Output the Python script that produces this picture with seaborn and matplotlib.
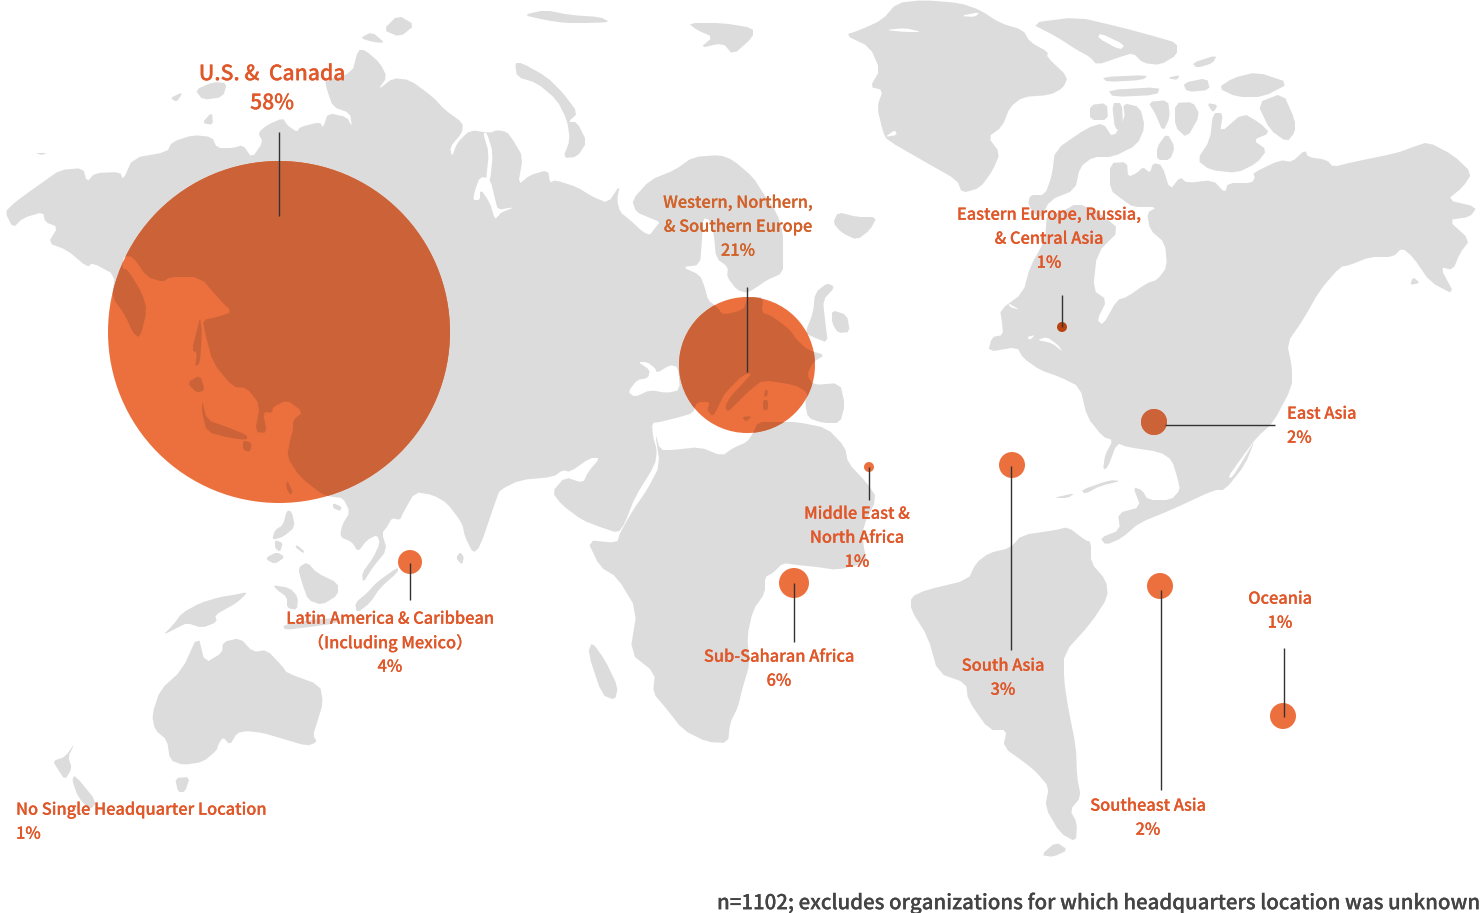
import matplotlib
matplotlib.use("Agg")
import matplotlib.patheffects as pe
import matplotlib.pyplot as plt
import pandas as pd
import seaborn as sns
from matplotlib.collections import PolyCollection
from matplotlib.patches import Circle

# Bubble values
regions = ["U.S. & Canada", "Western Europe", "East Asia", "Eastern Europe", "Middle East",
           "Sub-Saharan Africa", "South Asia", "Southeast Asia", "Oceania", "Latin America"]
shares = [58, 21, 2, 1, 1, 6, 3, 2, 1, 4]
bubble_x = [279, 747, 1154, 1062, 869, 794, 1012, 1160, 1283, 410]
bubble_y = [332, 365, 422, 327, 467, 583, 465, 586, 716, 562]
bubble_r = [171, 68, 13, 5, 5, 15, 13, 13, 13, 12]

# Leader lines (x0, y0, x1, y1)
leaders = [(279, 132, 279, 216), (747, 287, 747, 372), (1165, 425, 1275, 425),
           (1062, 295, 1062, 327), (869, 467, 869, 500), (794, 583, 794, 642),
           (1011, 466, 1011, 650), (1161, 590, 1161, 790), (1284, 648, 1284, 717),
           (410, 563, 410, 600)]

TEXT = "#e0582a"

# Labels: lines of text, x, first line y, alignment, colour
labels = [
    (["Western, Northern,", "& Southern Europe", "21%"], 738, 202, "center", "#d2622a"),
    (["Eastern Europe, Russia,", "& Central Asia", "1%"], 1049, 214, "center", TEXT),
    (["East Asia", "2%"], 1287, 413, "left", TEXT),
    (["Latin America & Caribbean", "（Including Mexico）", "4%"], 390, 618, "center", TEXT),
    (["Middle East &", "North Africa", "1%"], 857, 513, "center", TEXT),
    (["Sub-Saharan Africa", "6%"], 779, 656, "center", TEXT),
    (["South Asia", "3%"], 1003, 665, "center", TEXT),
    (["Southeast Asia", "2%"], 1148, 805, "center", TEXT),
    (["Oceania", "1%"], 1280, 598, "center", TEXT),
    (["No Single Headquarter Location", "1%"], 16, 809, "left", TEXT),
]
note = "n=1102; excludes organizations for which headquarters location was unknown"

# Background map, traced in picture pixels (the map is mirrored left to right)
eurasia = [(5,212),(13,204),(22,197),(43,182),(60,170),(83,168),(87,182),(95,173),(120,172),(123,180),
    (133,158),(167,152),(172,142),(193,135),(212,137),(217,148),(233,148),(243,145),(252,158),(263,142),
    (258,133),(267,125),(283,118),(287,125),(297,132),(300,127),(320,122),(323,128),(328,113),(347,117),
    (352,127),(350,113),(333,107),(327,90),(325,80),(352,73),(358,50),(365,50),(380,63),(387,77),(378,90),
    (393,78),(410,80),(433,97),(445,110),(463,123),(462,133),(450,147),(452,157),(457,143),(470,130),
    (490,133),(497,130),(507,132),(513,140),(523,157),(518,185),(530,175),(548,170),(550,183),(555,180),
    (577,187),(593,197),(608,203),(620,185),(617,200),(620,212),(630,220),(643,232),(650,235),(655,228),
    (660,222),(650,218),(636,212),(632,200),(650,180),(675,170),(693,157),(720,155),(733,160),(753,177),
    (763,193),(777,213),(783,233),(783,253),(783,273),(767,280),(757,287),(747,293),(737,290),(727,277),
    (728,267),(716,258),(714,235),(710,220),(703,218),(702,240),(700,265),(682,267),(700,275),(705,288),
    (708,300),(717,307),(723,315),(743,310),(747,300),(750,297),(763,297),(762,313),(770,315),(780,322),
    (790,330),(797,340),(808,350),(825,355),(813,362),(807,375),(813,385),(840,383),(845,405),(840,423),
    (823,423),(808,418),(805,403),(808,393),(795,385),(763,380),(750,390),(737,403),(728,412),(725,407),
    (730,397),(745,381),(752,373),(743,375),(725,393),(720,403),(713,417),(707,410),(710,402),(697,402),
    (693,413),(680,417),(660,422),(652,423),(653,437),(657,450),(655,465),(635,497),(625,523),(618,533),
    (600,527),(582,520),(562,505),(552,492),(565,477),(583,483),(588,472),(600,458),(590,458),(570,472),
    (563,470),(553,477),(520,480),(500,490),(497,497),(480,547),(473,553),(465,537),(462,523),(447,503),
    (433,495),(415,492),(403,513),(400,520),(392,518),(387,527),(382,533),(387,550),(373,567),(363,583),
    (362,573),(373,558),(380,543),(377,535),(367,540),(358,552),(352,542),(340,537),(342,525),(350,512),
    (343,498),(333,497),(323,495),(300,477),(287,457),(290,440),(293,430),(293,420),(303,412),(287,400),
    (273,407),(272,413),(263,412),(267,433),(255,432),(260,405),(247,388),(233,387),(213,363),(205,333),
    (203,320),(217,317),(232,312),(220,300),(200,277),(170,277),(163,282),(147,277),(133,257),(124,256),
    (122,268),(128,270),(142,293),(147,310),(140,338),(133,333),(125,315),(112,297),(115,275),(93,263),
    (87,267),(67,250),(48,243),(58,227),(45,222),(43,212),(23,218),(13,228)]
africa = [(655,432),(660,450),(673,450),(700,447),(722,456),(733,448),(747,442),(753,433),(758,422),(780,422),
    (797,422),(827,428),(845,447),(848,463),(867,483),(877,498),(863,527),(863,543),(867,563),(837,570),
    (817,567),(797,565),(783,563),(773,573),(765,577),(765,593),(753,610),(747,637),(750,663),(742,690),
    (738,707),(730,723),(728,743),(707,742),(683,730),(665,707),(653,693),(655,673),(630,653),(637,610),
    (617,577),(600,567),(587,540),(617,543),(620,533),(633,510),(647,490),(660,465)]
north_america = [(1253,173),(1280,160),(1292,162),(1305,150),(1308,157),(1327,160),(1333,167),(1353,162),
    (1397,153),(1413,147),(1428,142),(1453,155),(1472,173),(1463,187),(1447,200),(1477,207),(1470,217),
    (1448,220),(1470,240),(1460,253),(1453,270),(1440,267),(1455,295),(1430,282),(1413,257),(1402,248),
    (1393,257),(1370,257),(1350,265),(1340,267),(1320,290),(1303,320),(1287,343),(1292,367),(1292,387),
    (1273,423),(1257,437),(1240,460),(1228,477),(1232,478),(1248,452),(1255,440),(1245,465),(1225,490),
    (1214,490),(1171,510),(1139,523),(1122,538),(1106,545),(1100,538),(1120,530),(1118,513),(1141,507),
    (1133,487),(1142,490),(1148,500),(1171,500),(1180,490),(1178,480),(1172,460),(1160,452),(1127,447),
    (1117,443),(1108,467),(1103,470),(1105,455),(1113,440),(1103,437),(1087,417),(1080,387),(1060,377),
    (1040,370),(1023,358),(1017,347),(988,352),(992,337),(1003,335),(1002,322),(1000,310),(1023,293),
    (1030,267),(1045,240),(1047,213),(1060,213),(1077,203),(1100,213),(1120,230),(1097,253),(1093,290),
    (1107,300),(1097,320),(1103,325),(1117,300),(1127,297),(1147,283),(1157,280),(1167,267),(1165,243),
    (1150,230),(1147,213),(1157,207),(1133,207),(1123,200),(1110,190),(1110,163),(1127,162),(1128,177),
    (1137,173),(1143,167),(1150,173),(1153,163),(1162,165),(1170,190),(1180,177),(1187,183),(1213,180),
    (1225,193),(1228,183),(1252,183),(1255,177)]
south_america = [(1010,548),(1022,535),(1056,530),(1068,527),(1085,540),(1091,542),(1091,563),(1106,580),
    (1108,597),(1091,623),(1064,653),(1064,680),(1068,707),(1076,747),(1077,777),(1081,797),(1070,810),
    (1077,823),(1076,842),(1060,833),(1045,807),(1049,787),(1037,773),(1028,765),(1003,747),(1007,730),
    (989,730),(968,700),(966,683),(938,673),(928,637),(911,610),(911,597),(926,590),(968,580),(976,563),(989,553)]
greenland = [(845,35),(860,30),(882,20),(897,3),(923,0),(960,3),(980,10),(1000,23),(1023,30),(1030,42),
    (1048,52),(1047,57),(1068,77),(1063,88),(1050,95),(1023,97),(1010,107),(1002,127),(988,137),(1000,153),
    (993,170),(980,188),(962,193),(957,180),(927,163),(887,140),(883,132),(877,107),(883,90),(870,87),
    (880,70),(870,47)]
australia = [(198,635),(205,663),(222,653),(223,642),(240,638),(253,652),(267,650),(283,667),(287,673),
    (320,685),(323,703),(317,723),(313,735),(317,742),(307,746),(280,738),(263,733),(247,731),(237,733),
    (230,745),(223,737),(218,745),(217,750),(203,762),(183,765),(170,760),(167,740),(155,730),(152,715),
    (160,690),(182,670)]
baffin = [(1055,150),(1087,128),(1103,123),(1113,138),(1125,118),(1123,103),(1140,107),(1145,127),(1137,145),
    (1113,157),(1093,157),(1080,167),(1075,190),(1050,200),(1040,220),(1028,205),(1030,195),(1045,195),(1052,175)]
ellesmere = [(1030,23),(1077,17),(1120,27),(1157,37),(1177,43),(1177,55),(1160,65),(1143,63),(1133,53),
    (1120,57),(1097,65),(1090,57),(1077,50),(1057,37)]
victoria = [(1213,113),(1223,113),(1220,133),(1243,113),(1260,123),(1270,133),(1253,140),(1267,150),
    (1257,163),(1237,173),(1210,170),(1197,160),(1210,140)]
banks = [(1257,103),(1283,93),(1295,120),(1295,132),(1287,142),(1270,130)]
arctic_islands = [
    [(1090,105),(1107,103),(1108,120),(1090,120)],
    [(1112,103),(1122,103),(1123,128),(1115,130)],
    [(1148,102),(1168,100),(1170,117),(1163,132),(1155,113)],
    [(1175,103),(1193,102),(1200,115),(1187,138),(1175,127)],
    [(1207,103),(1218,105),(1213,113)],
    [(1157,147),(1167,133),(1175,147),(1170,160),(1157,160)],
    [(1218,88),(1233,78),(1257,72),(1290,83),(1263,97),(1237,97)],
    [(1183,83),(1207,78),(1210,90),(1187,92)],
    [(1108,90),(1160,87),(1157,95),(1113,97)],
    [(1102,77),(1148,75),(1143,80),(1107,82)],
    [(1167,78),(1180,75),(1177,80)],
    [(1192,63),(1217,55),(1213,63),(1197,68)],
    [(688,23),(723,23),(753,28),(753,37),(733,55),(723,43),(700,48),(713,37),(697,30)],
    [(523,15),(545,10),(570,15),(600,17),(610,22),(590,23),(565,23),(545,20)],
    [(383,30),(398,15),(415,25),(400,37)],
    [(360,38),(372,32),(385,43),(373,42)],
    [(170,98),(183,92),(177,102)],
    [(195,90),(213,82),(227,83),(223,97),(203,100)],
    [(202,123),(212,112),(213,125)],
    [(35,153),(47,153),(42,155)],
    [(515,63),(522,63),(547,77),(563,93),(578,113),(568,122),(577,122),(587,142),(577,157),(563,158),
     (570,140),(567,120),(557,100),(537,83),(517,77)],
]
small_islands = [
    [(833,223),(838,212),(857,217),(877,217),(870,230),(857,240),(842,233)],  # Iceland
    [(815,293),(827,283),(835,287),(823,300),(825,320),(828,343),(813,337),(805,333),(813,313)],
    [(832,310),(847,315),(850,332),(838,333),(832,323)],
    [(592,642),(605,660),(618,687),(615,700),(602,695),(588,653)],  # Madagascar
    [(765,390),(768,390),(767,397),(764,396)],
    [(763,400),(768,400),(768,410),(763,410)],
    [(742,417),(752,416),(746,422)],
    [(200,317),(202,333),(200,363),(195,367),(197,353),(192,350),(197,330)],  # Sakhalin
    [(187,383),(200,375),(205,390),(197,393)],
    [(202,400),(207,420),(227,427),(247,435),(247,440),(230,438),(207,432),(202,413)],
    [(243,440),(252,443),(250,452),(243,450)],
    [(287,480),(293,492),(290,495),(286,487)],
    [(333,503),(342,507),(340,511),(333,508)],
    [(460,552),(464,557),(462,565),(456,558)],
    [(287,510),(292,512),(295,527),(283,537),(272,540),(275,530),(283,525)],
    [(267,557),(277,552),(285,557),(275,564),(267,560)],
    [(275,540),(283,543),(280,552),(275,548)],
    [(297,545),(305,552),(303,553),(295,547)],
    [(298,568),(307,562),(317,573),(338,583),(338,595),(322,605),(308,600),(302,583)],  # Borneo
    [(398,567),(377,582),(367,593),(355,603),(357,613),(370,603),(380,588),(398,572)],  # Sumatra
    [(283,625),(310,620),(335,618),(338,623),(310,627),(285,630)],
    [(273,585),(290,588),(298,597),(297,610),(287,608),(287,597),(277,590)],
    [(248,592),(233,595),(220,597),(200,603),(182,613),(173,625),(163,635),(177,628),(187,623),(202,628),
     (217,622),(215,615),(233,605),(240,600)],  # New Guinea
    [(175,778),(190,777),(185,792),(178,792)],
    [(75,743),(68,757),(72,768),(65,780),(57,768),(53,761),(65,757)],
    [(75,775),(97,802),(90,810),(78,797),(72,780)],
    [(1081,490),(1110,480),(1121,481),(1100,486),(1085,494)],  # Cuba
    [(1053,498),(1075,493),(1068,498)],
    [(1041,855),(1056,842),(1068,850),(1053,857)],
    [(1413,277),(1420,283),(1410,285)],
]
water = [
    [(628,392),(637,380),(648,378),(650,370),(638,362),(647,362),(655,368),(657,373),(670,365),(678,367),
     (680,390),(667,393),(650,390),(635,397)],  # Black Sea
    [(480,182),(490,193),(497,210),(515,207),(500,213),(495,220),(490,203),(480,188)],
    [(487,133),(493,153),(490,182),(486,180),(489,153),(483,133)],
    [(475,190),(480,177),(490,178),(497,207),(500,217),(493,213),(490,197),(480,190),(480,200),(473,200)],
    [(1037,340),(1047,337),(1058,345),(1063,352),(1052,343)],
    [(1008,303),(1020,310),(1010,307)],
    [(1027,337),(1035,335),(1030,340)],
    [(1100,33),(1125,45),(1120,50),(1098,38)],
    [(885,30),(905,28),(922,32),(905,32)],
    [(960,16),(980,12),(975,17)],
    [(885,137),(895,130),(897,135)],
]
land = [eurasia, africa, north_america, south_america, greenland, australia, baffin, ellesmere,
        victoria, banks] + arctic_islands + small_islands

LAND = "#dcdcdc"
BUBBLE = "#ec703d"
BUBBLE_ON_LAND = "#cc6338"
DOT_DARK = "#b8430f"
DPI = 100


def soften(shape, cut=0.2):
    # cut each corner once so the traced coast is less angular
    out = []
    for (x0, y0), (x1, y1) in zip(shape, shape[1:] + shape[:1]):
        out.append((x0 + (x1 - x0) * cut, y0 + (y1 - y0) * cut))
        out.append((x1 - (x1 - x0) * cut, y1 - (y1 - y0) * cut))
    return out


def draw_shapes(ax, shapes, color, zorder, clip=None):
    coll = PolyCollection([soften(s) for s in shapes], facecolors=color, edgecolors="none",
                          linewidths=0, zorder=zorder)
    ax.add_collection(coll)
    if clip is not None:
        coll.set_clip_path(clip)


def put_text(ax, x, y, text, size, color, align="center"):
    ax.text(x, y + 1.2, text, ha=align, va="center", fontsize=size, color=color, fontweight="medium",
            zorder=7, path_effects=[pe.withStroke(linewidth=0.12, foreground=color)])


sns.set_theme(style="white")
plt.rcParams["font.family"] = ["Noto Sans CJK JP", "DejaVu Sans"]

fig = plt.figure(figsize=(14.8, 9.13), dpi=DPI)
ax = fig.add_axes([0, 0, 1, 1])

draw_shapes(ax, land, LAND, 1)
draw_shapes(ax, water, "white", 2)

df = pd.DataFrame({"region": regions, "share": shares, "x": bubble_x, "y": bubble_y, "r": bubble_r})
df["area"] = (2 * df["r"] * 72 / DPI) ** 2
palette = {name: BUBBLE for name in regions}
palette["Eastern Europe"] = DOT_DARK
sns.scatterplot(data=df, x="x", y="y", hue="region", palette=palette, s=df["area"].to_numpy(),
                linewidth=0, legend=False, zorder=3, ax=ax)

# land shows through the bubbles, so repeat it in a darker colour clipped to each one
for row in df[df["region"] != "Eastern Europe"].itertuples():
    circle = Circle((row.x, row.y), row.r, transform=ax.transData)
    draw_shapes(ax, land, BUBBLE_ON_LAND, 4, clip=circle)
    draw_shapes(ax, water, BUBBLE, 5, clip=circle)

for x0, y0, x1, y1 in leaders:
    ax.plot([x0, x1], [y0, y1], color="#333333", lw=1.0, zorder=6, solid_capstyle="butt")

for lines, x, y, align, color in labels:
    for i, line in enumerate(lines):
        put_text(ax, x, y + i * 24, line, 11.8, color, align)

put_text(ax, 272, 73, "U.S. &  Canada", 15.2, TEXT)
put_text(ax, 272, 102, "58%", 15.2, TEXT)
put_text(ax, 1479, 902, note, 14.7, "#444444", "right")

ax.set_xlim(0, 1480)
ax.set_ylim(913, 0)
ax.set_axis_off()

fig.savefig("out.png", dpi=DPI)
plt.close(fig)
